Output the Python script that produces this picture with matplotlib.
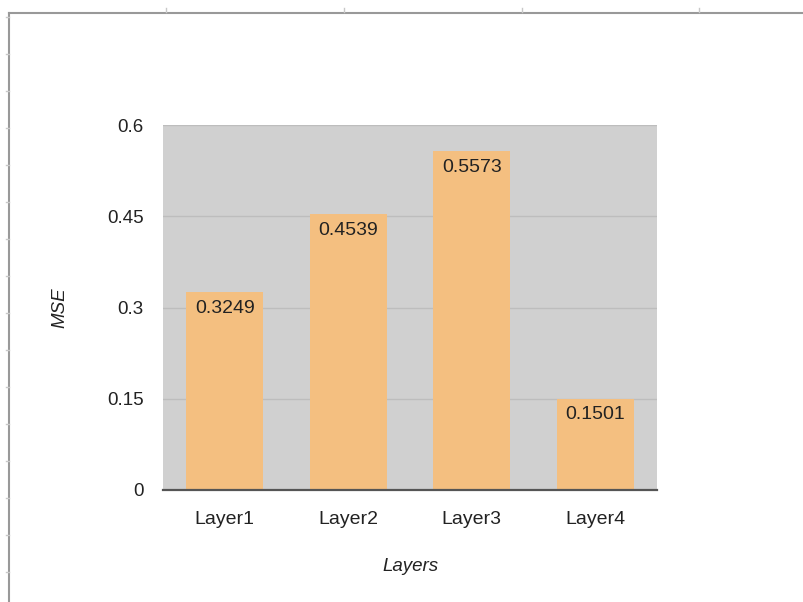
import matplotlib
matplotlib.use("Agg")
import matplotlib.pyplot as plt
from matplotlib.lines import Line2D

plt.rcParams['font.family'] = ['Liberation Sans', 'DejaVu Sans']

layers = ["Layer1", "Layer2", "Layer3", "Layer4"]
mse = [0.3249, 0.4539, 0.5573, 0.1501]
yticks = [0, 0.15, 0.3, 0.45, 0.6]
ytick_labels = ["0", "0.15", "0.3", "0.45", "0.6"]

W, H = 804, 602
fig = plt.figure(figsize=(W / 100, H / 100), dpi=100)
fig.patch.set_facecolor("white")

ax = fig.add_axes([163 / W, 1 - 490 / H, 494 / W, 365 / H])
ax.set_facecolor("#D0D0D0")

x = range(len(layers))
bars = ax.bar(x, mse, width=0.62, color="#F4BF80", zorder=3)

for xi, v in zip(x, mse):
    ax.annotate(f"{v:.4f}", xy=(xi, v), xytext=(0, -5.5), textcoords="offset points",
                ha="center", va="top", fontsize=14, color="#222222", zorder=4)

ax.set_xlim(-0.5, len(layers) - 0.5)
ax.set_ylim(0, 0.6)
ax.set_yticks(yticks)
ax.set_yticklabels(ytick_labels)
ax.set_xticks(list(x))
ax.set_xticklabels(layers)
ax.yaxis.grid(True, color="#BDBDBD", linewidth=1.0, zorder=1)
ax.set_axisbelow(True)

for side in ("top", "right", "left"):
    ax.spines[side].set_visible(False)
ax.spines["bottom"].set_color("#555555")
ax.spines["bottom"].set_linewidth(1.6)
ax.spines["bottom"].set_zorder(5)

ax.tick_params(axis="y", length=0, labelsize=13.5, colors="#222222", pad=14)
ax.tick_params(axis="x", length=0, labelsize=14, colors="#222222", pad=15)

ax.set_ylabel("MSE", fontsize=13.5, style="italic", color="#222222", labelpad=28)
ax.set_xlabel("Layers", fontsize=13.5, style="italic", color="#222222", labelpad=22)

# sheet frame with ruler marks
def px(xp, yp):
    return xp / W, 1 - yp / H

fx0, fy0 = px(9, 12.5)
fig.add_artist(Line2D([fx0, 1], [fy0, fy0], transform=fig.transFigure, color="#999999", lw=1.5))
fig.add_artist(Line2D([fx0, fx0], [fy0, 0], transform=fig.transFigure, color="#999999", lw=1.5))
for tx in (166, 344, 522, 699):
    a, b = px(tx, 8)
    _, c = px(tx, 12)
    fig.add_artist(Line2D([a, a], [b, c], transform=fig.transFigure, color="#C8C8C8", lw=1))
for ty in range(17, 600, 37):
    a, b = px(6, ty)
    c, _ = px(9, ty)
    fig.add_artist(Line2D([a, c], [b, b], transform=fig.transFigure, color="#C8C8C8", lw=1))

fig.savefig("out.png", dpi=100)
